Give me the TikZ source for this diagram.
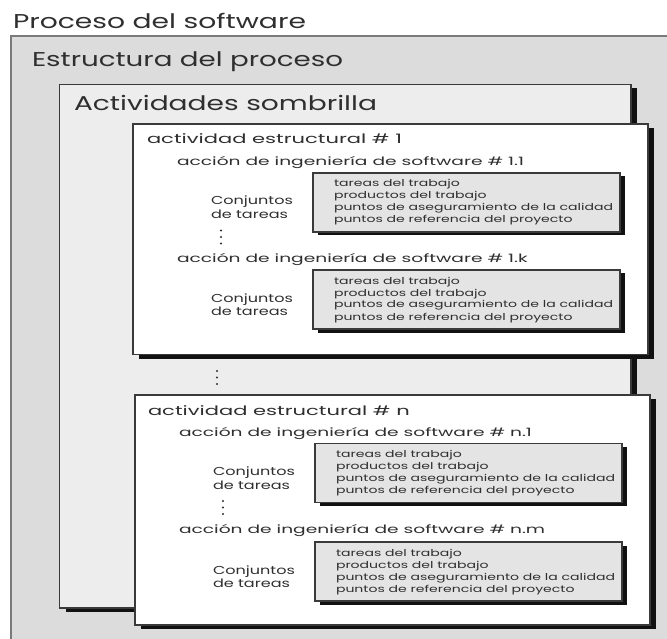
\documentclass[tikz,border=0pt]{standalone}
\usepackage{fontspec}
\setmainfont{Poppins}
\usepackage{graphicx}
\definecolor{ink}{HTML}{2F2F2F}
\definecolor{outerfill}{HTML}{DCDCDC}
\definecolor{outerline}{HTML}{7A7A7A}
\definecolor{umbfill}{HTML}{EDEDED}
\definecolor{boxline}{HTML}{3A3A3A}
\definecolor{taskfill}{HTML}{E4E4E4}
\definecolor{shadowc}{HTML}{111111}
\newlength\tmpw
\newcommand\getratio[3]{\settowidth\tmpw{#2}\pgfmathsetmacro#1{#3/\tmpw}}
\newcommand\fitto[2]{\settowidth\tmpw{#2}\pgfmathsetmacro\fitr{#1/\tmpw}\scalebox{\fitr}[1]{#2}}
\newcommand\fbig{\fontsize{20}{24}\selectfont}
\newcommand\fact{\fontsize{13}{16}\selectfont}
\newcommand\facc{\fontsize{11.5}{14}\selectfont}
\newcommand\fconj{\fontsize{11.5}{14}\selectfont}
\newcommand\ftask{\fontsize{9.5}{12}\selectfont}
\newcommand\tact[1]{\scalebox{\ractr}[1]{\fact #1}}
\newcommand\tacc[1]{\scalebox{\raccr}[1]{\facc #1}}
\newcommand\tconj[1]{\scalebox{\rconjr}[1]{\fconj #1}}
\newcommand\ttask[1]{\scalebox{\rtaskr}[1]{\ftask #1}}
% style, x1, y1, x2, y2, shadow dx, shadow dy
\newcommand\shadowbox[7]{%
  \fill[shadowc] ({#2+#6},{#3+#7}) rectangle ({#4+#6},{#5+#7});
  \path[#1] (#2,#3) rectangle (#4,#5);}
\newcommand\taskblock[3]{%
  \shadowbox{taskbox}{#2}{#3}{#2+307}{#3+59}{5}{3.5}
  \node[txt] (#1l1) at ({#2+21},{#3+14}) {\ttask{tareas del trabajo}};
  \node[txt] (#1l2) at ({#2+21},{#3+26}) {\ttask{productos del trabajo}};
  \node[txt] (#1l3) at ({#2+21},{#3+38}) {\ttask{puntos de aseguramiento de la calidad}};
  \node[txt] (#1l4) at ({#2+21},{#3+50}) {\ttask{puntos de referencia del proyecto}};
  \node[txt] (#1c1) at ({#2-102},{#3+32}) {\tconj{Conjuntos}};
  \node[txt] (#1c2) at ({#2-102},{#3+45.5}) {\tconj{de tareas}};}
\newcommand\dotcol[2]{%
  \fill[ink] (#1,#2) circle (1.15);
  \fill[ink] (#1,{#2+6.5}) circle (1.15);
  \fill[ink] (#1,{#2+13}) circle (1.15);}
\begin{document}
\getratio\ractr{\fact actividad estructural \# 1}{255}%
\getratio\raccr{\facc acción de ingeniería de software \# 1.1}{347}%
\getratio\rconjr{\fconj Conjuntos}{82}%
\getratio\rtaskr{\ftask puntos de aseguramiento de la calidad}{279}%
\begin{tikzpicture}[x=1pt,y=-1pt,
  txt/.style={anchor=base west,inner sep=0pt,outer sep=0pt,text=ink},
  outerbox/.style={fill=outerfill,draw=outerline,line width=2.5pt},
  umbbox/.style={fill=umbfill,draw=boxline,line width=1.3pt},
  actbox/.style={fill=white,draw=boxline,line width=1.3pt},
  taskbox/.style={fill=taskfill,draw=boxline,line width=1.2pt}]
\useasboundingbox (0,0) rectangle (667,639);
\clip (0,0) rectangle (667,639);
\fill[white] (0,0) rectangle (667,639);
% title
\node[txt] (title) at (13,29) {\fitto{293}{\fbig Proceso del software}};
% outer box
\path[outerbox] (11,36) rectangle (720,720);
\node[txt] (estr) at (32,67) {\fitto{311}{\fbig Estructura del proceso}};
% umbrella
\shadowbox{umbbox}{59.5}{84.5}{631}{608}{6}{4}
\node[txt] (umb) at (74,111) {\fitto{303}{\fbig Actividades sombrilla}};
% activity 1
\shadowbox{actbox}{133}{124}{648}{354.5}{5.5}{4}
\node[txt] (act1) at (147,144) {\tact{actividad estructural \# 1}};
\node[txt] (acc11) at (177,166) {\tacc{acción de ingeniería de software \# 1.1}};
\taskblock{ta}{313}{173}
\dotcol{221}{230.5}
\node[txt] (acc1k) at (177,262) {\tacc{acción de ingeniería de software \# 1.k}};
\taskblock{tb}{313}{270}
% middle dots
\dotcol{217}{371}
% activity n
\shadowbox{actbox}{135}{395}{650}{625}{5.5}{4}
\node[txt] (actn) at (148,415) {\tact{actividad estructural \# n}};
\node[txt] (accn1) at (179,436) {\tacc{acción de ingeniería de software \# n.1}};
\taskblock{tc}{315}{443.5}
\dotcol{223}{501}
\node[txt] (accnm) at (179,533) {\tacc{acción de ingeniería de software \# n.m}};
\taskblock{td}{315}{542}
\end{tikzpicture}
\end{document}
